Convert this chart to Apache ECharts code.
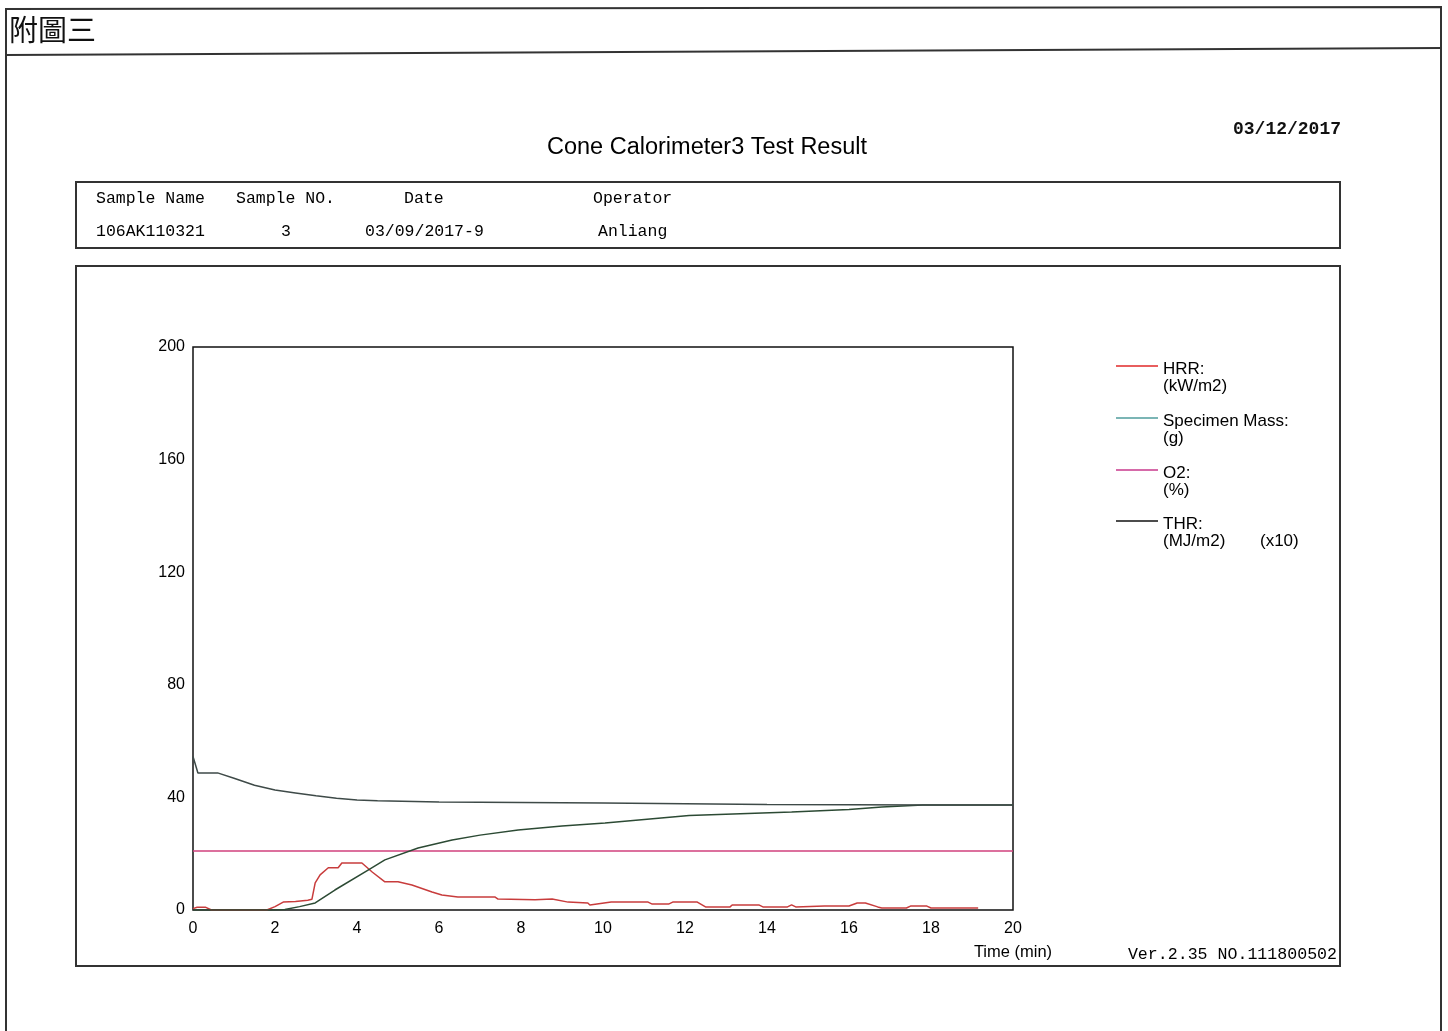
<!DOCTYPE html>
<html>
<head>
<meta charset="utf-8">
<script src="https://cdn.jsdelivr.net/npm/echarts@6/dist/echarts.min.js"></script>
<style>
html,body{margin:0;padding:0;background:#fff;}
#c{width:1448px;height:1031px;}
</style>
</head>
<body>
<div id="c"></div>
<script>
// ---- data (time in minutes) ----
const xTicks = [0, 2, 4, 6, 8, 10, 12, 14, 16, 18, 20];
const yTicks = [0, 40, 80, 120, 160, 200];

const hrrTime = [0, 0.1, 0.3, 0.45, 1.8, 2.0, 2.2, 2.5, 2.8, 2.9, 2.98, 3.1, 3.3, 3.54, 3.63, 4.12, 4.37, 4.68, 5.0, 5.34, 5.83, 6.07, 6.46, 7.37, 7.44, 8.34, 8.76, 9.15, 9.63, 9.68, 10.2, 11.1, 11.2, 11.6, 11.7, 12.3, 12.5, 13.1, 13.15, 13.8, 13.9, 14.5, 14.6, 14.7, 15.4, 16.0, 16.2, 16.4, 16.7, 16.8, 17.4, 17.5, 17.9, 18.0, 19.15];
const hrrVal  = [0.5, 1.0, 1.0, 0,   0,   1.2, 2.8, 3.0, 3.5, 3.8, 9.6,  12.5, 15.0, 15.0, 16.7, 16.7, 13.5, 10.0, 10.0, 8.9, 6.4, 5.3, 4.6, 4.6, 3.9, 3.6, 3.9, 2.8, 2.5, 1.8, 2.8, 2.8, 2.1, 2.1, 2.8, 2.8, 1.1, 1.1, 1.8, 1.8, 1.1, 1.1, 1.8, 1.1, 1.4, 1.4, 2.5, 2.5, 1.1, 0.7, 0.7, 1.4, 1.4, 0.7, 0.7];

const massTime = [0, 0.12, 0.6, 1.0, 1.5, 2.0, 2.5, 3.0, 3.5, 4.0, 4.5, 6.0, 8.0, 10.0, 12.0, 14.0, 16.0, 18.0, 20.0];
const massVal  = [54.5, 48.7, 48.7, 46.8, 44.3, 42.6, 41.6, 40.6, 39.7, 39.1, 38.8, 38.4, 38.2, 38.0, 37.7, 37.5, 37.4, 37.3, 37.3];

const o2Time = [0, 20];
const o2Val  = [21.0, 21.0];

const thrTime = [0, 1.9, 2.24, 2.6, 2.98, 3.46, 4.27, 4.68, 5.49, 6.32, 7.0, 7.93, 9.0, 10.05, 12.1, 14.6, 16.0, 16.8, 17.8, 20.0];
const thrVal  = [0, 0, 0.2, 1.2, 2.5, 7.1, 14.2, 17.8, 22.0, 24.9, 26.6, 28.4, 29.8, 30.9, 33.6, 34.8, 35.7, 36.6, 37.3, 37.3];

const legendItems = ['HRR:', 'Specimen Mass:', 'O2:', 'THR:'];
const legendUnits = ['(kW/m2)', '(g)', '(%)', '(MJ/m2)'];
const legendColors = ['#e02828', '#4f9c9c', '#c8388c', '#111111'];
const lineColors = ['#c83c3c', '#3e4a48', '#d0407c', '#2c4a34'];

const tableHead = ['Sample Name', 'Sample NO.', 'Date', 'Operator'];
const tableRow  = ['106AK110321', '3', '03/09/2017-9', 'Anliang'];

function pairs(t, v) { return t.map((x, i) => [x, v[i]]); }

const chart = echarts.init(document.getElementById('c'), null, {renderer: 'canvas'});

const mono = '"Liberation Mono", "DejaVu Sans Mono", monospace';
const sans = '"Liberation Sans", Arial, sans-serif';

const graphics = [];
// outer page frame
graphics.push({type: 'polyline', shape: {points: [[6, 1031], [6, 9], [1441, 7], [1441, 1031]]}, style: {stroke: '#333', lineWidth: 2, fill: null}});
graphics.push({type: 'line', shape: {x1: 6, y1: 55, x2: 1441, y2: 48}, style: {stroke: '#333', lineWidth: 2}});
graphics.push({type: 'text', left: 9, top: 15, style: {text: '附圖三', font: '29px "Noto Sans CJK TC"', fill: '#111'}});
// title & date
graphics.push({type: 'text', x: 707, y: 148, style: {text: 'Cone Calorimeter3 Test Result', font: '23.5px ' + sans, fill: '#000', textAlign: 'center', textVerticalAlign: 'middle'}});
graphics.push({type: 'text', x: 1341, y: 129, style: {text: '03/12/2017', font: 'bold 18px ' + mono, fill: '#111', textAlign: 'right', textVerticalAlign: 'middle'}});
// table box
graphics.push({type: 'rect', shape: {x: 76, y: 182, width: 1264, height: 66}, style: {stroke: '#333', lineWidth: 2, fill: null}});
const headX = [96, 236, 404, 593];
const rowX = [96, 281, 365, 598];
tableHead.forEach((t, i) => graphics.push({type: 'text', x: headX[i], y: 199, style: {text: t, font: '16.5px ' + mono, fill: '#000', textVerticalAlign: 'middle'}}));
tableRow.forEach((t, i) => graphics.push({type: 'text', x: rowX[i], y: 232, style: {text: t, font: '16.5px ' + mono, fill: '#000', textVerticalAlign: 'middle'}}));
// chart box
graphics.push({type: 'rect', shape: {x: 76, y: 266, width: 1264, height: 700}, style: {stroke: '#333', lineWidth: 2, fill: null}});
// legend
const legY = [366, 418, 470, 521];
legendItems.forEach((t, i) => {
  graphics.push({type: 'line', shape: {x1: 1116, y1: legY[i], x2: 1158, y2: legY[i]}, style: {stroke: legendColors[i], lineWidth: 1.3}});
  graphics.push({type: 'text', x: 1163, y: legY[i] + 3, style: {text: t, font: '17px ' + sans, fill: '#000', textVerticalAlign: 'middle'}});
  graphics.push({type: 'text', x: 1163, y: legY[i] + 20, style: {text: legendUnits[i], font: '17px ' + sans, fill: '#000', textVerticalAlign: 'middle'}});
});
graphics.push({type: 'text', x: 1260, y: 541, style: {text: '(x10)', font: '17px ' + sans, fill: '#000', textVerticalAlign: 'middle'}});
// axis name & version
graphics.push({type: 'text', x: 1013, y: 952, style: {text: 'Time (min)', font: '16.5px ' + sans, fill: '#000', textAlign: 'center', textVerticalAlign: 'middle'}});
graphics.push({type: 'text', x: 1337, y: 955, style: {text: 'Ver.2.35 NO.111800502', font: '16.6px ' + mono, fill: '#000', textAlign: 'right', textVerticalAlign: 'middle'}});

const names = ['HRR', 'Specimen Mass', 'O2', 'THR'];
const seriesData = [pairs(hrrTime, hrrVal), pairs(massTime, massVal), pairs(o2Time, o2Val), pairs(thrTime, thrVal)];

chart.setOption({
  animation: false,
  backgroundColor: '#fff',
  grid: {left: 193, top: 347, width: 820, height: 563, show: true, borderColor: '#111', borderWidth: 1.5, backgroundColor: 'transparent'},
  xAxis: {
    type: 'value', min: 0, max: 20, interval: 2,
    axisLine: {show: false}, axisTick: {show: false}, splitLine: {show: false},
    axisLabel: {color: '#000', fontSize: 16, fontFamily: sans, margin: 11, formatter: v => xTicks.includes(v) ? String(v) : ''}
  },
  yAxis: {
    type: 'value', min: 0, max: 200, interval: 40,
    axisLine: {show: false}, axisTick: {show: false}, splitLine: {show: false},
    axisLabel: {color: '#000', fontSize: 16, fontFamily: sans, margin: 8, formatter: v => yTicks.includes(v) ? String(v) : ''}
  },
  series: names.map((n, i) => ({
    name: n, type: 'line', data: seriesData[i], showSymbol: false, symbol: 'none',
    lineStyle: {color: lineColors[i], width: 1.5}, itemStyle: {color: lineColors[i]}, z: i === 1 ? 3 : 2
  })),
  graphic: graphics
});
</script>
</body>
</html>
